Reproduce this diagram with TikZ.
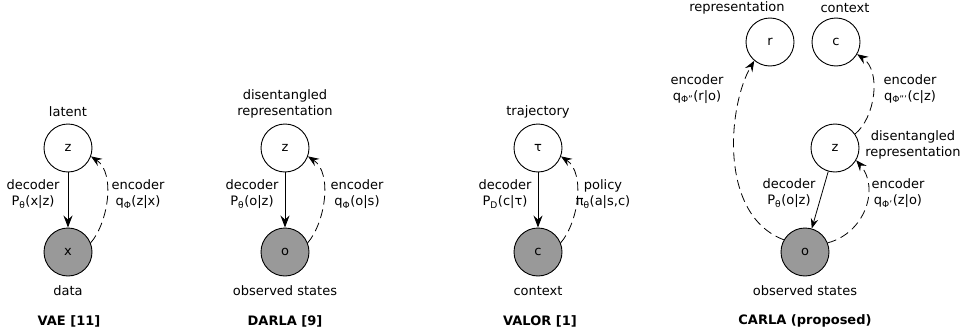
\documentclass[tikz,border=0pt]{standalone}
\usepackage{fontspec}
\setmainfont{DejaVu Sans}
\usetikzlibrary{arrows.meta,calc}
\newcommand{\lowsub}[1]{\textsubscript{#1}}
\begin{document}
\begin{tikzpicture}[x=1pt,y=1pt,
  every node/.style={font=\fontsize{13}{16}\selectfont, inner sep=0pt},
  var/.style={circle, draw, line width=0.9pt, minimum size=48pt, fill=white},
  obs/.style={var, fill=black!40},
  lbl/.style={align=center},
  ttl/.style={font=\fontsize{13}{16}\selectfont\bfseries},
  dec/.style={line width=1pt, -{Stealth[length=12pt,width=9pt,inset=4pt]}},
  enc/.style={line width=0.8pt, dash pattern=on 9pt off 5pt, -{Stealth[length=11pt,width=8.5pt,inset=4pt]}}
]
\useasboundingbox (0,0) rectangle (961,333);
% ---------------- VAE
\node[var] (vz) at (68,185) {z};
\node[obs] (vx) at (68,81) {x};
\node[lbl] (vlat) at (68,221) {latent};
\node[lbl] (vdata) at (68,42) {data};
\node[lbl] (vdec) at (33,138.5) {decoder\\P\lowsub{θ}(x|z)};
\node[lbl] (venc) at (138,138.5) {encoder\\q\lowsub{Φ}(z|x)};
\node[ttl] (vt) at (69,12) {VAE [11]};
\draw[dec] (vz) -- (vx);
\draw[enc] (vx.22) .. controls ($(vx)+(40,29)$) and ($(vz)+(48,-25)$) .. (vz.-20);
% ---------------- DARLA
\node[var] (dz) at (285,185) {z};
\node[obs] (do) at (285,81) {o};
\node[lbl] (drep) at (285,229) {disentangled\\representation};
\node[lbl] (dobs) at (285,42) {observed states};
\node[lbl] (ddec) at (252,138.5) {decoder\\P\lowsub{θ}(o|z)};
\node[lbl] (denc) at (357,138.5) {encoder\\q\lowsub{Φ}(o|s)};
\node[ttl] (dt) at (285,12) {DARLA [9]};
\draw[dec] (dz) -- (do);
\draw[enc] (do.22) .. controls ($(do)+(40,29)$) and ($(dz)+(48,-25)$) .. (dz.-20);
% ---------------- VALOR
\node[var] (tt) at (538,185) {τ};
\node[obs] (tc) at (538,81) {c};
\node[lbl] (ttraj) at (538,221) {trajectory};
\node[lbl] (tctx) at (538,42) {context};
\node[lbl] (tdec) at (505,138.5) {decoder\\P\lowsub{D}(c|τ)};
\node[lbl] (tpol) at (603,138.5) {policy\\π\lowsub{θ}(a|s,c)};
\node[ttl] (tti) at (540,12) {VALOR [1]};
\draw[dec] (tt) -- (tc);
\draw[enc] (tc.22) .. controls ($(tc)+(40,29)$) and ($(tt)+(48,-25)$) .. (tt.-20);
% ---------------- CARLA
\node[var] (cr) at (770,291) {r};
\node[var] (cc) at (836,291) {c};
\node[var] (cz) at (835,185) {z};
\node[obs] (co) at (805,81) {o};
\node[lbl] (crep) at (737,325) {representation};
\node[lbl] (cctx) at (845,325) {context};
\node[lbl] (cencl) at (697,244) {encoder\\q\lowsub{Φ''}(r|o)};
\node[lbl] (cencr) at (910,244) {encoder\\q\lowsub{Φ'''}(c|z)};
\node[lbl] (cdis) at (913,188) {disentangled\\representation};
\node[lbl] (cdec) at (789,139.5) {decoder\\P\lowsub{θ}(o|z)};
\node[lbl] (cencb) at (898,139.5) {encoder\\q\lowsub{Φ'}(z|o)};
\node[lbl] (cobs) at (805,42) {observed states};
\node[ttl] (cti) at (805,12) {CARLA (proposed)};
\draw[line width=0.8pt, -{Stealth[length=10pt,width=7.5pt,inset=3.5pt]}] (cz) -- (co);
\draw[enc] (co.150) .. controls ($(co)+(-87,37)$) and ($(cr)+(-42,-63)$) .. (cr.-130);
\draw[enc] (co.22) .. controls ($(co)+(60,19)$) and ($(cz)+(45,-40)$) .. (cz.-30);
\draw[enc] (cz.35) .. controls ($(cz)+(40,30)$) and ($(cc)+(46,-29)$) .. (cc.-30);
\end{tikzpicture}
\end{document}
